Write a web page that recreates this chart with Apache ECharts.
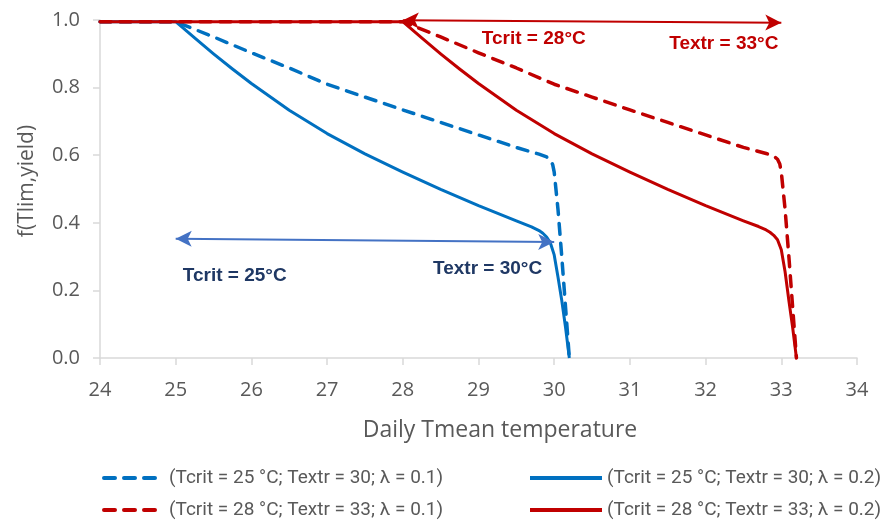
<!DOCTYPE html>
<html>
<head>
<meta charset="utf-8">
<script src="https://cdn.jsdelivr.net/npm/echarts@6/dist/echarts.min.js"></script>
<style>
  html, body { margin: 0; padding: 0; background: #fff; }
  #chart { width: 887px; height: 522px; }
</style>
</head>
<body>
<div id="chart"></div>
<script>
// Temperature limitation function f(Tlim,yield) vs daily mean temperature
const tempLow01 = [24, 25, 25.5, 26, 26.5, 27, 27.5, 28, 28.5, 29, 29.5, 29.8, 29.9, 29.95, 29.98, 30.0, 30.05, 30.1, 30.15, 30.2];
const fLow01 = [0.995, 0.995, 0.95, 0.903, 0.858, 0.81, 0.772, 0.734, 0.697, 0.66, 0.623, 0.603, 0.595, 0.586, 0.572, 0.55, 0.44, 0.30, 0.15, 0.0];

const tempLow02 = [24, 25, 25.25, 25.5, 25.75, 26, 26.5, 27, 27.5, 28, 28.5, 29, 29.5, 29.7, 29.8, 29.85, 29.9, 29.95, 30.0, 30.05, 30.1, 30.15, 30.2];
const fLow02 = [0.995, 0.995, 0.947, 0.900, 0.855, 0.812, 0.733, 0.664, 0.604, 0.550, 0.499, 0.451, 0.406, 0.388, 0.377, 0.369, 0.358, 0.340, 0.305, 0.24, 0.17, 0.09, 0.0];

const tempHigh01 = [24, 28, 28.5, 29, 29.5, 30, 30.5, 31, 31.5, 32, 32.5, 32.8, 32.9, 32.95, 32.98, 33.0, 33.05, 33.1, 33.15, 33.2];
const fHigh01 = [0.995, 0.995, 0.95, 0.903, 0.858, 0.81, 0.772, 0.734, 0.697, 0.66, 0.623, 0.605, 0.597, 0.588, 0.574, 0.55, 0.44, 0.30, 0.15, 0.0];

const tempHigh02 = [24, 28, 28.25, 28.5, 28.75, 29, 29.5, 30, 30.5, 31, 31.5, 32, 32.5, 32.7, 32.8, 32.85, 32.9, 32.95, 33.0, 33.05, 33.1, 33.15, 33.2];
const fHigh02 = [0.995, 0.995, 0.947, 0.900, 0.855, 0.812, 0.733, 0.664, 0.604, 0.550, 0.499, 0.451, 0.406, 0.389, 0.379, 0.372, 0.363, 0.350, 0.32, 0.255, 0.17, 0.09, 0.0];

const seriesNames = [
  '(Tcrit = 25 °C; Textr = 30; λ = 0.1)',
  '(Tcrit = 25 °C; Textr = 30; λ = 0.2)',
  '(Tcrit = 28 °C; Textr = 33; λ = 0.1)',
  '(Tcrit = 28 °C; Textr = 33; λ = 0.2)'
];

// Threshold arrows: [Tcrit, Textr] with the f level at each end
const arrowLowT = [25, 30];
const arrowLowF = [0.353, 0.343];
const arrowHighT = [28, 33];
const arrowHighF = [0.999, 0.992];

// Annotation texts and anchor positions [T, f]
const noteTexts = ['Tcrit = 25°C', 'Textr = 30°C', 'Tcrit = 28°C', 'Textr = 33°C'];
const noteT = [25.78, 29.12, 29.73, 32.24];
const noteF = [0.242, 0.265, 0.944, 0.929];

const xTicks = { min: 24, max: 34, step: 1 };
const yTicks = { min: 0, max: 1, step: 0.2 };

const BLUE = '#0070C0';
const RED = '#C00000';
const ARROW_BLUE = '#4472C4';
const NAVY = '#1F3864';
const GREY = '#595959';
const AXIS = '#D9D9D9';
const UI_FONT = 'Open Sans, sans-serif';

const pairs = (xs, ys) => xs.map((x, i) => [x, ys[i]]);

const lineSeries = (name, xs, ys, color, dashed) => ({
  name,
  type: 'line',
  data: pairs(xs, ys),
  showSymbol: false,
  symbol: 'none',
  smooth: false,
  clip: false,
  lineStyle: {
    color,
    width: dashed ? 3.5 : 3,
    type: dashed ? [11, 9] : 'solid',
    cap: dashed ? 'round' : 'butt',
    join: 'round'
  },
  itemStyle: { color },
  emphasis: { disabled: true },
  z: 2
});

const arrowMark = (ts, fs, color) => ({
  silent: true,
  symbol: ['arrow', 'arrow'],
  symbolSize: [12, 16],
  label: { show: false },
  lineStyle: { color, width: 2, type: 'solid' },
  data: [[
    { coord: [ts[0], fs[0]] },
    { coord: [ts[1], fs[1]] }
  ]]
});

const noteMark = (idx, color) => ({
  silent: true,
  symbol: 'circle',
  symbolSize: 0,
  data: idx.map(i => ({
    coord: [noteT[i], noteF[i]],
    label: {
      show: true,
      position: 'inside',
      formatter: noteTexts[i],
      color,
      fontWeight: 'bold',
      fontSize: 19,
      fontFamily: 'Liberation Sans, Arial, sans-serif'
    }
  }))
});

const sLow01 = lineSeries(seriesNames[0], tempLow01, fLow01, BLUE, true);
const sLow02 = lineSeries(seriesNames[1], tempLow02, fLow02, BLUE, false);
const sHigh01 = lineSeries(seriesNames[2], tempHigh01, fHigh01, RED, true);
const sHigh02 = lineSeries(seriesNames[3], tempHigh02, fHigh02, RED, false);

sLow02.markLine = arrowMark(arrowLowT, arrowLowF, ARROW_BLUE);
sLow02.markPoint = noteMark([0, 1], NAVY);
sHigh02.markLine = arrowMark(arrowHighT, arrowHighF, RED);
sHigh02.markPoint = noteMark([2, 3], RED);

const legendBase = {
  orient: 'vertical',
  top: 463,
  height: 80,
  itemHeight: 14,
  itemGap: 12,
  selectedMode: false,
  itemStyle: { opacity: 0 },
  lineStyle: { width: 4 },
  textStyle: { color: GREY, fontSize: 19, lineHeight: 20, fontFamily: 'Roboto, sans-serif' }
};

const chart = echarts.init(document.getElementById('chart'), null, { renderer: 'canvas' });
chart.setOption({
  animation: false,
  backgroundColor: '#fff',
  grid: { left: 100, right: 30, top: 20, bottom: 164, containLabel: false },
  xAxis: {
    type: 'value',
    min: xTicks.min,
    max: xTicks.max,
    interval: xTicks.step,
    name: 'Daily Tmean temperature',
    nameLocation: 'middle',
    nameGap: 61,
    nameTextStyle: { color: GREY, fontSize: 23, fontFamily: UI_FONT, padding: [0, 0, 0, 43] },
    axisLine: { show: true, lineStyle: { color: AXIS, width: 1.5 } },
    axisTick: { show: true, length: 7, lineStyle: { color: AXIS, width: 1.5 } },
    axisLabel: { color: GREY, fontSize: 20, margin: 22, fontFamily: UI_FONT },
    splitLine: { show: false }
  },
  yAxis: {
    type: 'value',
    min: yTicks.min,
    max: yTicks.max,
    interval: yTicks.step,
    name: 'f(Tlim,yield)',
    nameLocation: 'middle',
    nameRotate: 90,
    nameGap: 62,
    nameTextStyle: { color: GREY, fontSize: 21, fontFamily: UI_FONT, padding: [0, 0, 0, 16] },
    axisLine: { show: true, lineStyle: { color: AXIS, width: 1.5 } },
    axisTick: { show: true, length: 7, lineStyle: { color: AXIS, width: 1.5 } },
    axisLabel: { color: GREY, fontSize: 20, margin: 20, fontFamily: UI_FONT, formatter: v => v.toFixed(1) },
    splitLine: { show: false }
  },
  legend: [
    Object.assign({}, legendBase, { left: 97, itemWidth: 60, data: [seriesNames[0], seriesNames[2]] }),
    Object.assign({}, legendBase, { left: 523, itemWidth: 72, data: [seriesNames[1], seriesNames[3]] })
  ],
  series: [sLow01, sLow02, sHigh01, sHigh02]
});
</script>
</body>
</html>
